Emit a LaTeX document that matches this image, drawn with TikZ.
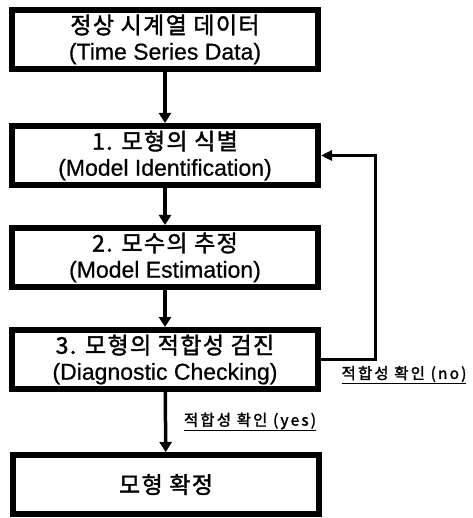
\documentclass[tikz,border=0pt]{standalone}
\usepackage{fontspec}
\setmainfont{Liberation Sans}[FakeBold=0.6,AutoFakeBold=0.6]
\newfontfamily\kr{Noto Sans CJK KR}[LetterSpace=6,FakeBold=1.6]
\newfontfamily\krlab{Noto Sans CJK KR}[LetterSpace=14,FakeBold=1.8]
\usetikzlibrary{arrows.meta}

\tikzset{
  stage/.style={draw, line width=6pt, fill=white, minimum width=306pt, minimum height=59pt,
    align=center, font=\fontsize{23}{26}\selectfont},
  flow/.style={line width=3.5pt, -{Triangle[length=10pt,width=12pt]}},
  loopback/.style={line width=3pt, -{Triangle[length=11pt,width=10pt]}},
  cond/.style={font=\fontsize{15.5}{17}\selectfont}
}

\begin{document}
\begin{tikzpicture}[x=1pt, y=-1pt]
  \useasboundingbox (0,0) rectangle (472,518);

  % stages of the modelling procedure
  \node[stage] (data) at (165,39.5) {{\kr 정상 시계열 데이터}\\(Time Series Data)};
  \node[stage] (ident) at (165,155.5) {{\kr 1. 모형의 식별}\\(Model Identification)};
  \node[stage] (estim) at (165,257.5) {{\kr 2. 모수의 추정}\\(Model Estimation)};
  \node[stage] (diag) at (165,359.5) {{\kr 3. 모형의 적합성 검진}\\(Diagnostic Checking)};
  \node[stage] (final) at (166,484.5) {\kr 모형 확정};

  % forward flow
  \draw[flow] (data) -- (ident);
  \draw[flow] (ident) -- (estim);
  \draw[flow] (estim) -- (diag);
  \draw[flow] (diag) -- (final);

  % back to identification when the check fails
  \draw[loopback] (diag.east) -- ++(54,0) |- (ident.east);

  \node[cond] (no) at (404,375) {\underline{\krlab 적합성 확인 (no)}};
  \node[cond] (yes) at (250,422) {\underline{\krlab 적합성 확인 (yes)}};
\end{tikzpicture}
\end{document}
